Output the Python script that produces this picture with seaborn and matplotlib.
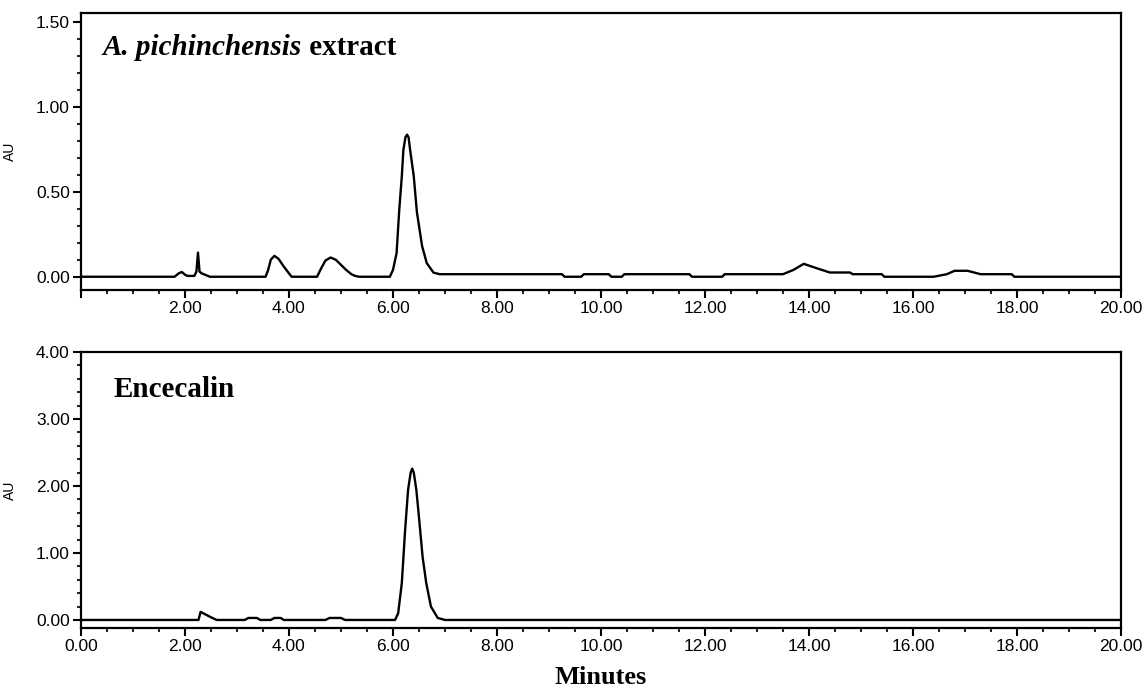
import matplotlib
matplotlib.use("Agg")
import matplotlib.pyplot as plt
import seaborn as sns
from matplotlib.ticker import MultipleLocator, FormatStrFormatter

# extract trace (minutes, AU)
extract_t = [0.0, 1.80, 1.88, 1.94, 2.00, 2.05, 2.18, 2.22, 2.25, 2.28, 2.32, 2.40, 2.48,
             3.55, 3.60, 3.65, 3.72, 3.80, 3.90, 4.00, 4.05,
             4.54, 4.62, 4.70, 4.80, 4.90, 5.00, 5.10, 5.20, 5.27, 5.35,
             5.94, 6.00, 6.07, 6.12, 6.17, 6.20, 6.24, 6.27, 6.30, 6.33, 6.40, 6.46, 6.56,
             6.65, 6.78, 6.90,
             9.25, 9.30, 9.62, 9.67, 10.15, 10.20, 10.40, 10.45, 11.70, 11.75, 12.33, 12.38,
             13.50, 13.70, 13.90, 14.10, 14.40, 14.79, 14.84, 15.40, 15.45, 16.40, 16.65,
             16.80, 17.05, 17.30, 17.90, 17.95, 20.0]
extract_au = [0.0, 0.0, 0.02, 0.028, 0.012, 0.005, 0.005, 0.03, 0.142, 0.03, 0.02, 0.01, 0.0,
              0.0, 0.04, 0.10, 0.123, 0.105, 0.06, 0.02, 0.0,
              0.0, 0.05, 0.095, 0.113, 0.10, 0.07, 0.04, 0.015, 0.005, 0.0,
              0.0, 0.04, 0.14, 0.39, 0.59, 0.745, 0.82, 0.835, 0.82, 0.745, 0.59, 0.38, 0.18,
              0.08, 0.024, 0.015,
              0.015, 0.0, 0.0, 0.015, 0.015, 0.0, 0.0, 0.015, 0.015, 0.0, 0.0, 0.015,
              0.015, 0.04, 0.076, 0.055, 0.025, 0.025, 0.015, 0.015, 0.0, 0.0, 0.015,
              0.035, 0.035, 0.015, 0.015, 0.0, 0.0]

# encecalin standard trace
std_t = [0.0, 2.26, 2.30, 2.40, 2.50, 2.61, 3.15, 3.22, 3.38, 3.45, 3.65, 3.72, 3.84, 3.90,
         4.70, 4.78, 5.00, 5.08,
         6.04, 6.10, 6.17, 6.23, 6.29, 6.34, 6.37, 6.40, 6.45, 6.51, 6.57, 6.64, 6.73, 6.86,
         7.00, 20.0]
std_au = [0.0, 0.0, 0.12, 0.08, 0.04, 0.0, 0.0, 0.03, 0.03, 0.0, 0.0, 0.03, 0.03, 0.0,
          0.0, 0.03, 0.03, 0.0,
          0.0, 0.10, 0.55, 1.30, 1.94, 2.20, 2.26, 2.20, 1.94, 1.45, 0.94, 0.55, 0.20, 0.03,
          0.0, 0.0]

sns.set_style("ticks")
plt.rcParams["font.family"] = ["Liberation Sans", "DejaVu Sans"]
plt.rcParams["text.color"] = "black"
plt.rcParams["axes.labelcolor"] = "black"
plt.rcParams["xtick.direction"] = "out"
plt.rcParams["ytick.direction"] = "out"

fig = plt.figure(figsize=(11.47, 6.95), dpi=100)
ax1 = fig.add_axes([0.0706, 0.5827, 0.9067, 0.3986])
ax2 = fig.add_axes([0.0706, 0.0964, 0.9067, 0.3971])

sns.lineplot(x=extract_t, y=extract_au, ax=ax1, color="black", lw=1.7, estimator=None)
sns.lineplot(x=std_t, y=std_au, ax=ax2, color="black", lw=1.7, estimator=None)

ax1.set_ylim(-0.078, 1.55)
ax2.set_ylim(-0.12, 4.0)
ax1.yaxis.set_major_locator(MultipleLocator(0.5))
ax1.yaxis.set_minor_locator(MultipleLocator(0.1))
ax2.yaxis.set_major_locator(MultipleLocator(1.0))
ax2.yaxis.set_minor_locator(MultipleLocator(0.2))

for ax in (ax1, ax2):
    ax.set_xlim(0, 20)
    ax.xaxis.set_major_locator(MultipleLocator(2))
    ax.xaxis.set_minor_locator(MultipleLocator(0.5))
    ax.xaxis.set_major_formatter(FormatStrFormatter("%.2f"))
    ax.yaxis.set_major_formatter(FormatStrFormatter("%.2f"))
    for s in ax.spines.values():
        s.set_linewidth(1.6)
        s.set_color("black")
    ax.tick_params(which="major", length=6, width=1.5, labelsize=12.5, pad=2, colors="black")
    ax.tick_params(which="minor", length=3, width=1.5)
    ax.set_ylabel("AU", fontsize=10)
    ax.yaxis.set_label_coords(-0.062, 0.5)
    ax.set_xlabel("")

# no 0.00 label on the upper panel
ax1.set_xticks(range(0, 21, 2))
ax1.set_xticklabels([""] + [f"{v:.2f}" for v in range(2, 21, 2)])

serif = ["Liberation Serif", "DejaVu Serif"]
t1 = ax1.text(0.021, 0.849, "A. pichinchensis", transform=ax1.transAxes, family=serif,
              fontsize=21, fontweight="bold", fontstyle="italic", va="baseline")
ax1.annotate(" extract", xy=(1, 0), xycoords=t1, family=serif, fontsize=21,
             fontweight="bold", va="bottom")
ax2.text(0.031, 0.837, "Encecalin", transform=ax2.transAxes, family=serif,
         fontsize=21, fontweight="bold", va="baseline")

fig.text(0.524, 0.008, "Minutes", family=serif, fontsize=19, fontweight="bold",
         ha="center", va="bottom")

plt.savefig("out.png", dpi=100)
